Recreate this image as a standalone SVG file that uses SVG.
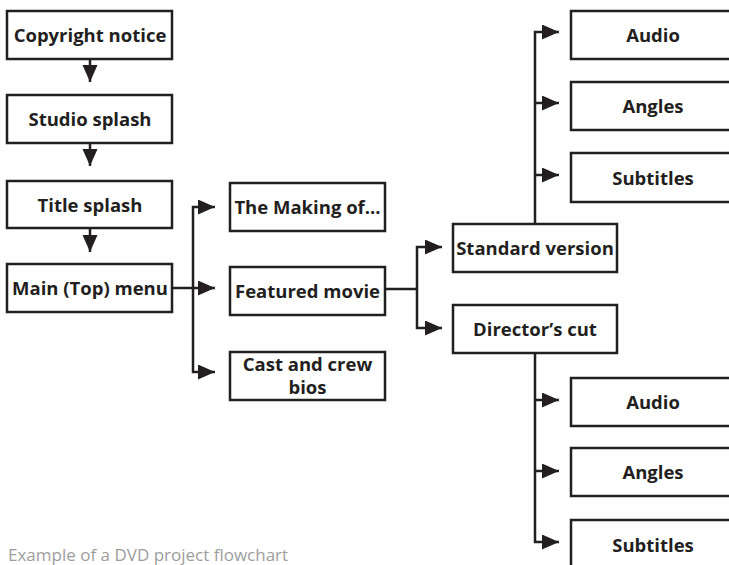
<svg xmlns="http://www.w3.org/2000/svg" width="729" height="565" viewBox="0 0 729 565">
  <style>
    .box { fill: #ffffff; stroke: #231f20; stroke-width: 2.5; }
    .lbl { font-family: "Open Sans", "Liberation Sans", sans-serif; font-weight: 700; font-size: 18.5px; fill: #231f20; text-anchor: middle; }
    .wire { fill: none; stroke: #231f20; stroke-width: 2.5; marker-end: url(#head); }
    .plain { fill: none; stroke: #231f20; stroke-width: 2.5; }
    .caption { font-family: "Open Sans", "Liberation Sans", sans-serif; font-size: 17px; fill: #9d9d9d; }
  </style>
  <defs>
    <marker id="head" markerUnits="userSpaceOnUse" markerWidth="18" markerHeight="16" refX="17" refY="7.5" orient="auto">
      <path d="M0,0 L17,7.5 L0,15 z" fill="#231f20"/>
    </marker>
  </defs>
  <rect width="729" height="565" fill="#ffffff"/>

  <g id="connectors">
    <path class="wire" d="M90,59 V82"/>
    <path class="wire" d="M90,143 V166"/>
    <path class="wire" d="M90,228 V252"/>
    <path class="wire" d="M172,288 H215"/>
    <path class="wire" d="M193,288 V207 H215"/>
    <path class="wire" d="M193,288 V372 H215"/>
    <path class="plain" d="M385,289 H417"/>
    <path class="wire" d="M417,289 V247 H442"/>
    <path class="wire" d="M417,289 V328 H442"/>
    <path class="wire" d="M535,224 V32 H559"/>
    <path class="wire" d="M535,103 H559"/>
    <path class="wire" d="M535,175 H559"/>
    <path class="wire" d="M535,353 V542 H559"/>
    <path class="wire" d="M535,400 H559"/>
    <path class="wire" d="M535,471 H559"/>
  </g>

  <g id="copyright"><rect class="box" x="7" y="11" width="165" height="48"/><text class="lbl" x="90" y="42">Copyright notice</text></g>
  <g id="studio"><rect class="box" x="7" y="95" width="165" height="48"/><text class="lbl" x="90" y="126">Studio splash</text></g>
  <g id="title"><rect class="box" x="7" y="181" width="165" height="47"/><text class="lbl" x="90" y="211.5">Title splash</text></g>
  <g id="mainmenu"><rect class="box" x="7" y="264" width="165" height="48"/><text class="lbl" x="90" y="295">Main (Top) menu</text></g>

  <g id="making"><rect class="box" x="230" y="183" width="155" height="48"/><text class="lbl" x="307.5" y="214">The Making of...</text></g>
  <g id="featured"><rect class="box" x="230" y="267" width="155" height="48"/><text class="lbl" x="307.5" y="298">Featured movie</text></g>
  <g id="cast"><rect class="box" x="230" y="352" width="155" height="48"/><text class="lbl" x="307.5" y="371">Cast and crew</text><text class="lbl" x="307.5" y="394">bios</text></g>

  <g id="standard"><rect class="box" x="453" y="224" width="164" height="48"/><text class="lbl" x="535" y="255">Standard version</text></g>
  <g id="directors"><rect class="box" x="453" y="305" width="164" height="48"/><text class="lbl" x="535" y="336">Director’s cut</text></g>

  <g id="audio-std"><rect class="box" x="571" y="11" width="170" height="48"/><text class="lbl" x="653" y="42">Audio</text></g>
  <g id="angles-std"><rect class="box" x="571" y="82" width="170" height="48"/><text class="lbl" x="653" y="113">Angles</text></g>
  <g id="subtitles-std"><rect class="box" x="571" y="153" width="170" height="49"/><text class="lbl" x="653" y="184.5">Subtitles</text></g>

  <g id="audio-dir"><rect class="box" x="571" y="378" width="170" height="48"/><text class="lbl" x="653" y="409">Audio</text></g>
  <g id="angles-dir"><rect class="box" x="571" y="448" width="170" height="48"/><text class="lbl" x="653" y="479">Angles</text></g>
  <g id="subtitles-dir"><rect class="box" x="571" y="520" width="170" height="60"/><text class="lbl" x="653" y="551.5">Subtitles</text></g>

  <text class="caption" x="8" y="561">Example of a DVD project flowchart</text>
</svg>
